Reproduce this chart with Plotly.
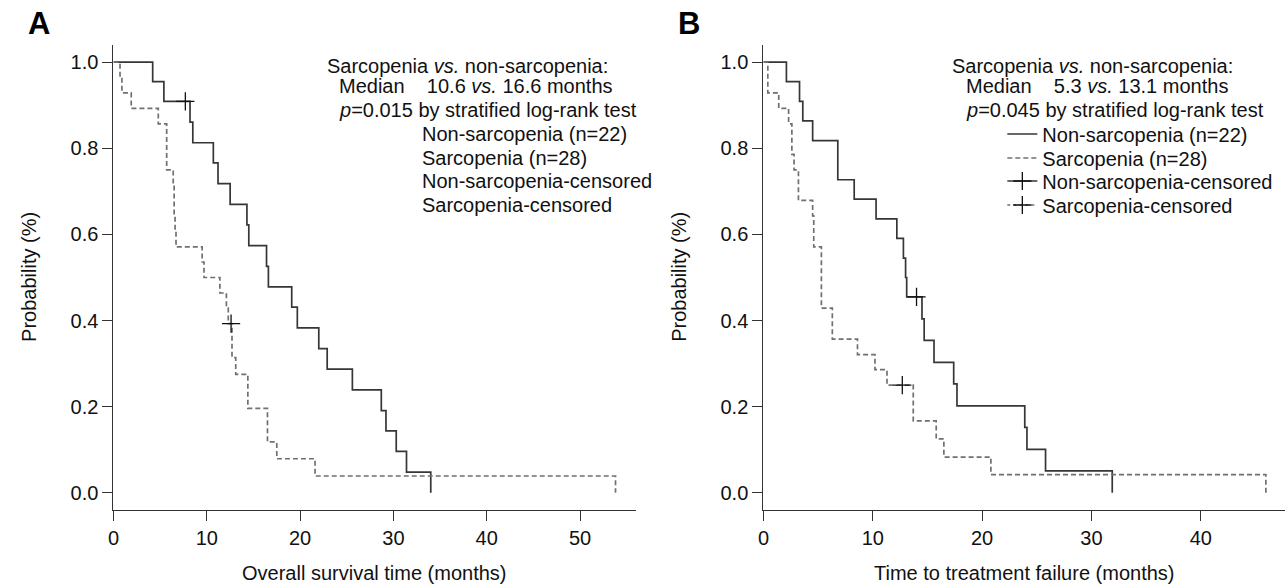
import plotly.graph_objects as go

# ---------------- data ----------------
# Panel A: overall survival (months)
a_non_t = [0, 4.2, 5.4, 8.2, 8.5, 10.7, 11.2, 12.5, 14.3, 14.5, 16.4, 16.6, 19.1, 19.7,
           22.0, 22.9, 25.6, 28.7, 29.2, 30.3, 31.4, 34.0]
a_non_s = [1.0, 0.955, 0.909, 0.861, 0.813, 0.766, 0.718, 0.670, 0.622, 0.574, 0.526,
           0.478, 0.431, 0.383, 0.335, 0.287, 0.239, 0.191, 0.144, 0.096, 0.048, 0.0]
a_non_cens_t = [7.7]
a_non_cens_s = [0.909]

a_sar_t = [0, 0.7, 0.9, 1.9, 4.8, 5.7, 5.7, 5.7, 6.4, 6.5, 6.5, 6.6, 6.7, 9.5, 9.7,
           11.4, 12.1, 12.3, 12.7, 12.7, 13.1, 14.4, 14.4, 16.5, 16.5, 17.5, 21.6, 53.8]
a_sar_s = [1.0, 0.964, 0.929, 0.893, 0.857, 0.821, 0.786, 0.750, 0.714, 0.679, 0.643,
           0.607, 0.571, 0.536, 0.500, 0.464, 0.429, 0.393, 0.354, 0.314, 0.275, 0.236,
           0.196, 0.157, 0.118, 0.079, 0.039, 0.0]
a_sar_cens_t = [12.6]
a_sar_cens_s = [0.393]

# Panel B: time to treatment failure (months)
b_non_t = [0, 2.1, 3.3, 3.6, 4.5, 6.8, 6.8, 8.3, 10.3, 12.2, 12.8, 13.0, 13.1, 14.5,
           14.7, 15.6, 17.4, 17.7, 23.9, 24.1, 25.8, 31.9]
b_non_s = [1.0, 0.955, 0.909, 0.864, 0.818, 0.773, 0.727, 0.682, 0.636, 0.591, 0.545,
           0.500, 0.455, 0.404, 0.354, 0.303, 0.253, 0.202, 0.152, 0.101, 0.051, 0.0]
b_non_cens_t = [14.0]
b_non_cens_s = [0.455]

b_sar_t = [0, 0.4, 0.4, 1.4, 2.3, 2.6, 2.6, 2.8, 3.2, 3.2, 4.5, 4.6, 4.6, 5.3, 5.3, 5.3,
           5.3, 6.3, 6.3, 8.6, 10.2, 11.3, 13.7, 13.7, 15.8, 16.5, 20.8, 45.95]
b_sar_s = [1.0, 0.964, 0.929, 0.893, 0.857, 0.821, 0.786, 0.750, 0.714, 0.679, 0.643,
           0.607, 0.571, 0.536, 0.500, 0.464, 0.429, 0.393, 0.357, 0.321, 0.286, 0.250,
           0.208, 0.167, 0.125, 0.083, 0.042, 0.0]
b_sar_cens_t = [12.7]
b_sar_cens_s = [0.250]

x_ticks_a = [0, 10, 20, 30, 40, 50]
x_ticks_b = [0, 10, 20, 30, 40]
y_ticks = [0.0, 0.2, 0.4, 0.6, 0.8, 1.0]

series_names = ["Non-sarcopenia (n=22)", "Sarcopenia (n=28)",
                "Non-sarcopenia-censored", "Sarcopenia-censored"]
header_a = ["Sarcopenia <i>vs.</i> non-sarcopenia:",
            "Median\u00a0\u00a0\u00a0 10.6 <i>vs.</i> 16.6 months",
            "<i>p</i>=0.015 by stratified log-rank test"]
header_b = ["Sarcopenia <i>vs.</i> non-sarcopenia:",
            "Median\u00a0\u00a0\u00a0 5.3 <i>vs.</i> 13.1 months",
            "<i>p</i>=0.045 by stratified log-rank test"]

# ---------------- styling ----------------
W, H = 1285, 585
FONT = "Liberation Sans, Arial, Helvetica, sans-serif"
FS = 20
SOLID = "#363636"
DASHC = "#707070"
AX = "#333333"
TXT = "#111111"
DASH = "5px,3px"


def px(p):
    return p / W


def py(p):
    return 1 - p / H


fig = go.Figure()

cross = dict(symbol="cross-thin", size=13, line=dict(color="#111", width=1.3))

# Panel A curves
fig.add_trace(go.Scatter(x=a_non_t, y=a_non_s, mode="lines", line=dict(shape="hv", color=SOLID, width=1.7),
                         xaxis="x", yaxis="y", showlegend=False, hoverinfo="skip"))
fig.add_trace(go.Scatter(x=a_sar_t, y=a_sar_s, mode="lines", line=dict(shape="hv", color=DASHC, width=1.7, dash=DASH),
                         xaxis="x", yaxis="y", showlegend=False, hoverinfo="skip"))
fig.add_trace(go.Scatter(x=a_non_cens_t, y=a_non_cens_s, mode="markers", marker=cross,
                         xaxis="x", yaxis="y", showlegend=False, hoverinfo="skip"))
fig.add_trace(go.Scatter(x=a_sar_cens_t, y=a_sar_cens_s, mode="markers", marker=cross,
                         xaxis="x", yaxis="y", showlegend=False, hoverinfo="skip"))

# Panel B curves (with legend entries)
fig.add_trace(go.Scatter(x=b_non_t, y=b_non_s, mode="lines", name=series_names[0],
                         line=dict(shape="hv", color=SOLID, width=1.7),
                         xaxis="x2", yaxis="y2", legend="legend", hoverinfo="skip"))
fig.add_trace(go.Scatter(x=b_sar_t, y=b_sar_s, mode="lines", name=series_names[1],
                         line=dict(shape="hv", color=DASHC, width=1.7, dash=DASH),
                         xaxis="x2", yaxis="y2", legend="legend2", hoverinfo="skip"))
fig.add_trace(go.Scatter(x=b_non_cens_t, y=b_non_cens_s, mode="lines+markers", name=series_names[2],
                         line=dict(color=SOLID, width=1.7), marker=cross,
                         xaxis="x2", yaxis="y2", legend="legend3", hoverinfo="skip"))
fig.add_trace(go.Scatter(x=b_sar_cens_t, y=b_sar_cens_s, mode="lines+markers", name=series_names[3],
                         line=dict(color=DASHC, width=1.7, dash="3px,3px"), marker=cross,
                         xaxis="x2", yaxis="y2", legend="legend4", hoverinfo="skip"))

axis_common = dict(showline=True, linecolor=AX, linewidth=1.3, ticks="outside", ticklen=10,
                   tickwidth=1.3, tickcolor=AX, showgrid=False, zeroline=False,
                   tickfont=dict(family=FONT, size=FS, color=TXT), fixedrange=True)

y_dom = [py(510), py(45)]
layout = dict(
    width=W, height=H,
    margin=dict(l=0, r=0, t=0, b=0),
    paper_bgcolor="white", plot_bgcolor="white",
    font=dict(family=FONT, size=FS, color=TXT),
    hovermode=False,
    xaxis=dict(domain=[px(108), px(633)], range=[0, 56], tickvals=x_ticks_a, anchor="y", **axis_common),
    yaxis=dict(domain=y_dom, range=[-0.04, 1.04], tickvals=y_ticks, tickformat=".1f", anchor="x", **axis_common),
    xaxis2=dict(domain=[px(761), 1.0], range=[0, 47.7], tickvals=x_ticks_b, anchor="y2", **axis_common),
    yaxis2=dict(domain=y_dom, range=[-0.04, 1.04], tickvals=y_ticks, tickformat=".1f", anchor="x2", **axis_common),
)

leg_y = [134, 158, 181, 205]
for i, key in enumerate(["legend", "legend2", "legend3", "legend4"]):
    layout[key] = dict(x=px(1001), y=py(leg_y[i]), xanchor="left", yanchor="middle",
                       bgcolor="rgba(0,0,0,0)", borderwidth=0,
                       font=dict(family=FONT, size=FS, color=TXT), itemclick=False, itemdoubleclick=False)

fig.update_layout(**layout)

ann = []
# Panel letters
ann.append(dict(text="<b>A</b>", x=px(33), y=py(24), xref="paper", yref="paper", showarrow=False,
                xanchor="center", yanchor="middle", font=dict(family=FONT, size=31, color="#000")))
ann.append(dict(text="<b>B</b>", x=px(686), y=py(24), xref="paper", yref="paper", showarrow=False,
                xanchor="center", yanchor="middle", font=dict(family=FONT, size=31, color="#000")))
# Axis titles
for xr, title in [("x domain", "Overall survival time (months)"), ("x2 domain", "Time to treatment failure (months)")]:
    ann.append(dict(text=title, x=0.5, y=py(573), xref=xr, yref="paper", showarrow=False,
                    xanchor="center", yanchor="middle", font=dict(family=FONT, size=FS, color=TXT)))
for xp in [23, 676]:
    ann.append(dict(text="Probability (%)", x=px(xp), y=py(277), xref="paper", yref="paper", showarrow=False,
                    textangle=-90, xanchor="center", yanchor="middle",
                    font=dict(family=FONT, size=FS, color=TXT)))
# Header texts
head_y = [66, 86, 110]
for i, t in enumerate(header_a):
    ann.append(dict(text=t, x=px(320 if i == 0 else 333), y=py(head_y[i]), xref="paper", yref="paper",
                    showarrow=False, xanchor="left", yanchor="middle"))
for i, t in enumerate(header_b):
    ann.append(dict(text=t, x=px(948 if i == 0 else 962), y=py(head_y[i]), xref="paper", yref="paper",
                    showarrow=False, xanchor="left", yanchor="middle"))
# Panel A legend labels (text only, as in the reference)
for i, t in enumerate(series_names):
    ann.append(dict(text=t, x=px(416), y=py(leg_y[i]), xref="paper", yref="paper",
                    showarrow=False, xanchor="left", yanchor="middle"))

fig.update_layout(annotations=ann)
fig.write_html("out.html", config={"displayModeBar": False, "staticPlot": False},
               post_script="document.body.style.margin='0px';document.body.style.overflow='hidden';")
